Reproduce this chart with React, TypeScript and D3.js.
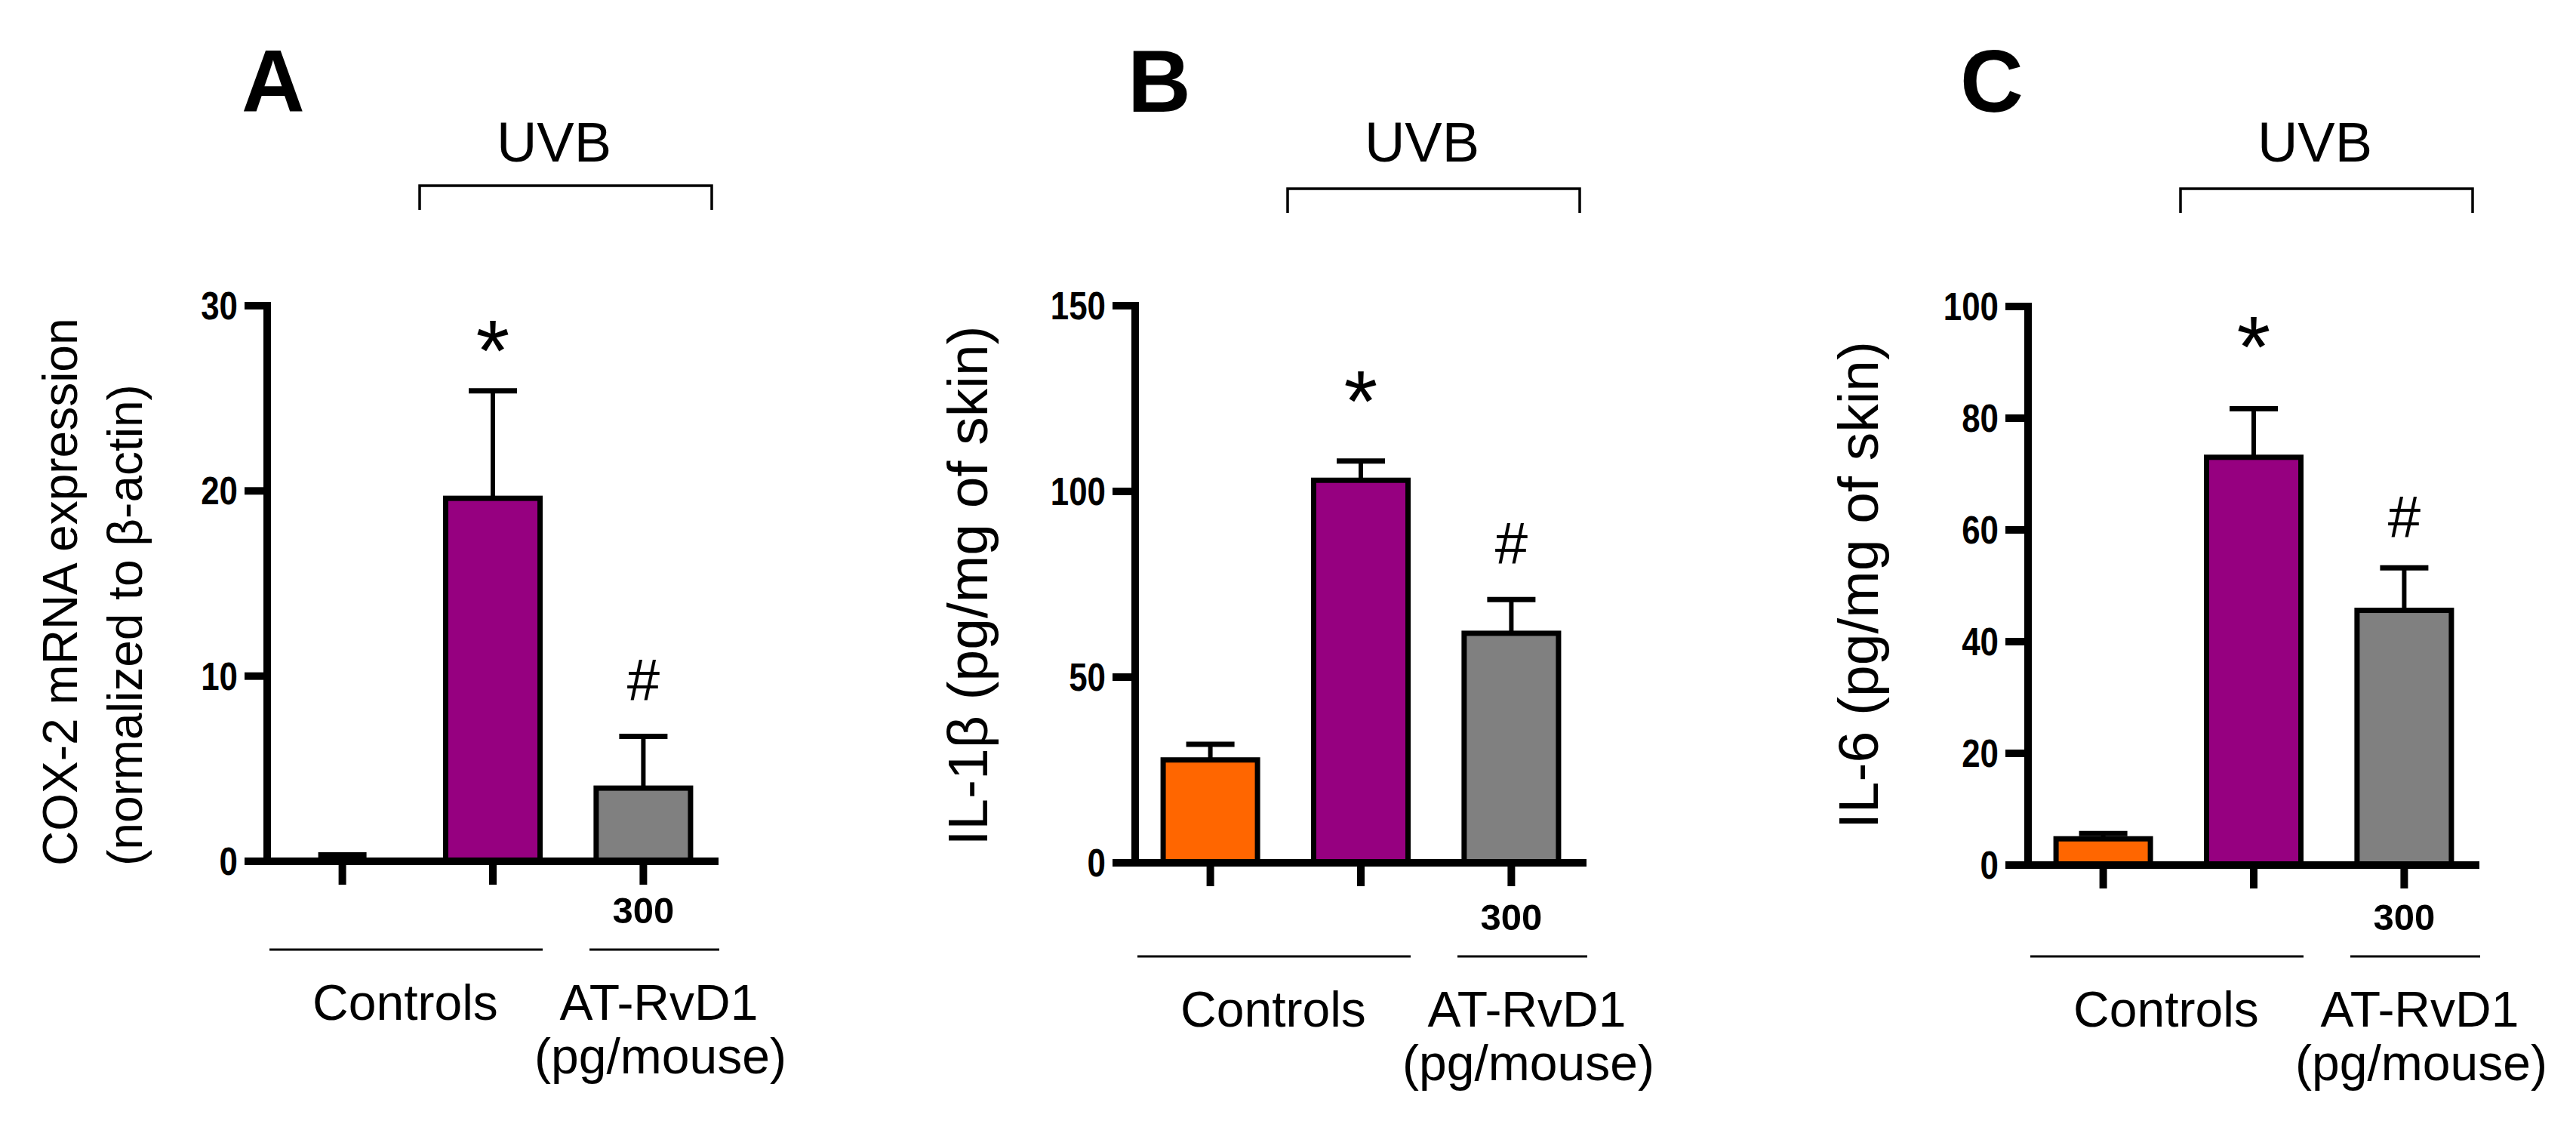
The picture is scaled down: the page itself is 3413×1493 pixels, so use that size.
import * as d3 from 'd3';

const groups = ['Controls', 'UVB', 'UVB + AT-RvD1'];
const barColors = ['#FF6600', '#960080', '#808080'];

const cox2Mean = [0.02, 19.6, 3.95];
const cox2Sem = [0.33, 5.8, 2.8];
const il1bMean = [27.7, 103.0, 61.8];
const il1bSem = [4.2, 5.2, 9.1];
const il6Mean = [4.7, 73.0, 45.6];
const il6Sem = [0.95, 8.7, 7.6];

const cox2Ticks = [0, 10, 20, 30];
const il1bTicks = [0, 50, 100, 150];
const il6Ticks = [0, 20, 40, 60, 80, 100];

const FONT = '"Liberation Sans", Arial, Helvetica, sans-serif';

interface PanelProps {
  letter: string;
  letterX: number;
  ox: number;
  y0: number;
  yTop: number;
  lineY: number;
  bracketY: number;
  ticks: number[];
  mean: number[];
  sem: number[];
  title: string[];
  titleSize: number;
  titleX: number[];
  titleY: number;
  titleAnchor: 'start' | 'middle';
  starTop: number;
  hashBase: number;
}

const AXIS_LEN = 598;

function Panel(p: PanelProps) {
  const yMax = p.ticks[p.ticks.length - 1];
  const y = d3.scaleLinear().domain([0, yMax]).range([p.y0, p.yTop]);
  const x = d3
    .scaleBand<string>()
    .domain(groups)
    .range([p.ox, p.ox + AXIS_LEN])
    .paddingInner(0.373)
    .paddingOuter(0.186);
  const bw = x.bandwidth();
  const cx = (g: string) => (x(g) ?? 0) + bw / 2;
  const c3 = cx(groups[2]);

  return (
    <g>
      {/* panel letter */}
      <text x={p.letterX} y={148} textAnchor="middle" fontFamily={FONT} fontWeight="bold" fontSize={116}>
        {p.letter}
      </text>

      {/* UVB bracket */}
      <path
        d={`M${p.ox + 202},${p.bracketY + 32}V${p.bracketY}H${p.ox + 589}V${p.bracketY + 32}`}
        fill="none"
        stroke="#000"
        strokeWidth={3.5}
      />
      <text x={p.ox + 380} y={214} textAnchor="middle" fontFamily={FONT} fontSize={74}>
        UVB
      </text>

      {/* y title */}
      {p.title.map((line, i) => (
        <text
          key={i}
          transform={`translate(${p.titleX[i]},${p.titleY}) rotate(-90)`}
          textAnchor={p.titleAnchor}
          fontFamily={FONT}
          fontSize={p.titleSize}
        >
          {line}
        </text>
      ))}

      {/* bars */}
      {groups.map((g, i) => (
        <rect
          key={g}
          x={x(g)}
          y={y(p.mean[i])}
          width={bw}
          height={p.y0 - y(p.mean[i])}
          fill={barColors[i]}
          stroke="#000"
          strokeWidth={7}
        />
      ))}

      {/* error bars */}
      {groups.map((g, i) => {
        const top = y(p.mean[i] + p.sem[i]);
        return (
          <g key={g}>
            <line x1={cx(g)} x2={cx(g)} y1={y(p.mean[i])} y2={top} stroke="#000" strokeWidth={6} />
            <line x1={cx(g) - 32} x2={cx(g) + 32} y1={top} y2={top} stroke="#000" strokeWidth={7} />
          </g>
        );
      })}

      {/* y axis */}
      <line x1={p.ox} x2={p.ox} y1={p.yTop - 5} y2={p.y0} stroke="#000" strokeWidth={10} />
      {p.ticks.map((t) => (
        <g key={t}>
          <line x1={p.ox - 30} x2={p.ox} y1={y(t)} y2={y(t)} stroke="#000" strokeWidth={10} />
          <text
            transform={`translate(${p.ox - 39},${y(t) + 18}) scale(0.86,1)`}
            textAnchor="end"
            fontFamily={FONT}
            fontWeight="bold"
            fontSize={51}
          >
            {t}
          </text>
        </g>
      ))}

      {/* x axis */}
      <line x1={p.ox - 30} x2={p.ox + AXIS_LEN} y1={p.y0} y2={p.y0} stroke="#000" strokeWidth={10} />
      {groups.map((g) => (
        <line key={g} x1={cx(g)} x2={cx(g)} y1={p.y0} y2={p.y0 + 31} stroke="#000" strokeWidth={10} />
      ))}

      {/* significance marks */}
      <text x={cx(groups[1])} y={y(p.starTop) + 84} textAnchor="middle" fontFamily={FONT} fontSize={115}>
        *
      </text>
      <text x={c3} y={y(p.hashBase)} textAnchor="middle" fontFamily={FONT} fontSize={78}>
        #
      </text>

      {/* group labels */}
      <text x={c3} y={p.lineY - 35} textAnchor="middle" fontFamily={FONT} fontWeight="bold" fontSize={49}>
        300
      </text>
      <line x1={p.ox + 3} x2={p.ox + 365} y1={p.lineY} y2={p.lineY} stroke="#000" strokeWidth={3} />
      <line x1={p.ox + 427} x2={p.ox + 599} y1={p.lineY} y2={p.lineY} stroke="#000" strokeWidth={3} />
      <text x={p.ox + 183} y={p.lineY + 93} textAnchor="middle" fontFamily={FONT} fontSize={66}>
        Controls
      </text>
      <text x={p.ox + 519} y={p.lineY + 93} textAnchor="middle" fontFamily={FONT} fontSize={66}>
        AT-RvD1
      </text>
      <text x={p.ox + 521} y={p.lineY + 164} textAnchor="middle" fontFamily={FONT} fontSize={66}>
        (pg/mouse)
      </text>
    </g>
  );
}

export default function App() {
  return (
    <div style={{ position: 'absolute', left: 0, top: 0 }}>
      <svg width={3413} height={1493} style={{ display: 'block', background: '#fff' }}>
        <Panel
          letter="A"
          letterX={362}
          ox={354}
          y0={1141}
          yTop={405}
          lineY={1258}
          bracketY={246}
          ticks={cox2Ticks}
          mean={cox2Mean}
          sem={cox2Sem}
          title={['COX-2 mRNA expression', '(normalized to β-actin)']}
          titleSize={64}
          titleX={[102, 188]}
          titleY={1147}
          titleAnchor="start"
          starTop={29.4}
          hashBase={8.7}
        />
        <Panel
          letter="B"
          letterX={1536}
          ox={1504}
          y0={1143}
          yTop={405}
          lineY={1267}
          bracketY={250}
          ticks={il1bTicks}
          mean={il1bMean}
          sem={il1bSem}
          title={['IL-1β (pg/mg of skin)']}
          titleSize={75}
          titleX={[1308]}
          titleY={776}
          titleAnchor="middle"
          starTop={133.3}
          hashBase={80.5}
        />
        <Panel
          letter="C"
          letterX={2639}
          ox={2687}
          y0={1146}
          yTop={406}
          lineY={1267}
          bracketY={250}
          ticks={il6Ticks}
          mean={il6Mean}
          sem={il6Sem}
          title={['IL-6 (pg/mg of skin)']}
          titleSize={75}
          titleX={[2488]}
          titleY={775}
          titleAnchor="middle"
          starTop={98.8}
          hashBase={58.6}
        />
      </svg>
    </div>
  );
}
